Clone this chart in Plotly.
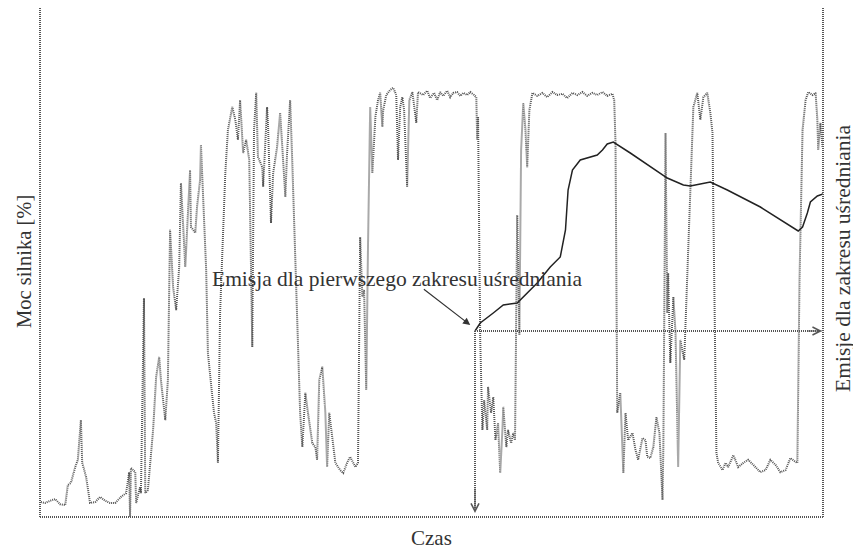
import plotly.graph_objects as go

# ---- Engine power trace (time [s], power [%]) ----
time_s = [
    2, 12, 23, 35, 46, 58, 64, 71, 81, 87, 94, 97, 106, 115, 127, 138, 150, 161, 173, 186,
    198, 205, 207, 209, 219, 221, 230, 232, 239, 242, 248, 253, 260, 267, 274, 278, 288, 294, 299, 306,
    313, 320, 324, 334, 345, 347, 357, 361, 368, 370, 377, 382, 386, 393, 400, 405, 409, 414, 421, 426,
    432, 442, 449, 455, 460, 467, 474, 481, 488, 492, 497, 501, 511, 513, 522, 524, 531, 536, 545, 552,
    557, 564, 568, 575, 580, 584, 589, 598, 603, 610, 616, 626, 633, 637, 642, 649, 656, 660, 665, 672,
    679, 690, 697, 706, 713, 725, 731, 736, 741, 745, 750, 754, 759, 764, 771, 777, 782, 787, 789, 796,
    805, 812, 819, 823, 828, 833, 837, 844, 849, 856, 865, 869, 881, 890, 897, 906, 913, 920, 927, 936,
    943, 950, 959, 966, 973, 982, 989, 998, 1003, 1005, 1007, 1012, 1017, 1021, 1028, 1030, 1037, 1042, 1047, 1053,
    1058, 1063, 1065, 1072, 1076, 1083, 1088, 1092, 1097, 1102, 1106, 1111, 1116, 1120, 1125, 1132, 1143, 1155, 1166, 1178,
    1189, 1201, 1212, 1224, 1235, 1247, 1258, 1270, 1281, 1293, 1304, 1316, 1320, 1323, 1327, 1334, 1341, 1346, 1352, 1362,
    1369, 1375, 1385, 1392, 1396, 1403, 1410, 1417, 1424, 1431, 1433, 1438, 1442, 1444, 1449, 1456, 1461, 1467, 1472, 1481,
    1488, 1495, 1502, 1511, 1518, 1525, 1534, 1541, 1546, 1548, 1555, 1559, 1569, 1576, 1582, 1594, 1605, 1617, 1628, 1640,
    1656, 1668, 1679, 1691, 1702, 1714, 1725, 1737, 1741, 1746, 1753, 1760, 1766, 1776, 1783, 1787, 1789, 1794, 1799,
]
power_pct = [
    3.5, 3.3, 3.8, 4.2, 3.0, 2.8, 7.5, 8.0, 11.7, 13.4, 22.7, 12.7, 9.4, 3.3, 3.5, 4.7, 3.8, 3.3, 3.3, 4.7,
    5.6, 10.5, 0.0, 11.5, 10.5, 3.3, 7.0, 5.6, 51.3, 5.6, 6.3, 12.7, 20.4, 32.8, 37.5, 32.1, 22.7, 32.1, 67.3, 53.9,
    48.5, 58.6, 78.3, 58.6, 81.3, 68.0, 66.6, 72.7, 79.0, 87.2, 69.6, 57.9, 38.4, 32.1, 24.4, 22.0, 12.7, 47.8, 69.6, 80.6,
    90.7, 96.1, 93.1, 88.4, 97.7, 85.3, 88.4, 83.7, 39.8, 90.7, 99.4, 84.4, 82.0, 77.4, 96.1, 92.4, 68.9, 80.6, 86.7, 94.7,
    86.7, 75.0, 85.3, 97.7, 83.0, 69.6, 55.6, 24.4, 16.4, 29.1, 24.4, 17.3, 16.4, 13.4, 32.1, 35.2, 24.4, 11.7, 24.4, 18.8,
    12.7, 11.0, 10.3, 12.7, 14.1, 11.7, 12.7, 65.6, 51.6, 53.2, 29.8, 63.3, 96.1, 80.6, 93.8, 97.7, 99.4, 91.4, 95.4, 98.9,
    100.1, 100.6, 98.9, 83.7, 96.1, 98.4, 95.4, 77.4, 97.7, 99.6, 92.4, 99.6, 98.9, 99.9, 98.2, 99.4, 97.7, 99.6, 98.7, 99.9,
    98.4, 99.4, 99.6, 98.7, 99.4, 98.9, 99.6, 98.9, 98.4, 88.4, 93.8, 41.5, 20.4, 27.4, 20.4, 30.5, 24.4, 28.1, 18.0, 22.0,
    10.3, 20.4, 25.8, 16.4, 20.4, 17.3, 19.7, 18.0, 70.8, 42.7, 86.0, 97.0, 90.7, 82.0, 95.4, 99.4, 98.7, 99.4, 98.4, 99.6,
    98.9, 99.2, 98.2, 99.4, 98.9, 99.6, 98.7, 99.4, 98.9, 99.6, 98.7, 99.2, 97.7, 87.7, 24.4, 29.1, 10.3, 24.4, 18.0, 19.7,
    15.7, 13.4, 18.5, 18.0, 14.1, 13.8, 16.4, 23.4, 19.7, 4.0, 16.4, 90.0, 47.8, 57.2, 36.1, 51.6, 43.1, 11.7, 41.5, 36.8,
    55.6, 79.0, 96.1, 99.4, 93.1, 98.4, 99.4, 94.7, 90.0, 71.3, 15.0, 12.7, 11.0, 12.7, 11.7, 14.5, 11.7, 12.7, 13.4, 12.2,
    10.5, 11.0, 13.4, 12.2, 10.5, 11.0, 13.8, 12.9, 12.7, 55.6, 90.7, 97.7, 99.6, 98.9, 99.4, 93.1, 86.0, 92.4, 86.7,
]

# ---- Emissions for the moving averaging window (time [s], emission [g/kWh]) ----
emis_time_s = [
    1000, 1012, 1042, 1065, 1097, 1111, 1143, 1173, 1196, 1208, 1214, 1224, 1242, 1281, 1293, 1304,
    1318, 1357, 1403, 1442, 1479, 1495, 1518, 1541, 1580, 1656, 1743, 1753, 1764, 1771, 1787, 1800,
]
emis_value = [
    1.86, 1.94, 2.04, 2.12, 2.14, 2.20, 2.34, 2.50, 2.60, 2.87, 3.27, 3.47, 3.57, 3.62, 3.67, 3.73,
    3.75, 3.64, 3.50, 3.39, 3.32, 3.31, 3.33, 3.35, 3.27, 3.10, 2.86, 2.90, 3.04, 3.15, 3.21, 3.23,
]

first_window_end_s = 1000
first_window_emission = 1.86
t_max = 1800

FONT = "Liberation Serif"
TXT = "#333333"
GRAY = "#555555"

fig = go.Figure()

fig.add_trace(go.Scatter(
    x=time_s, y=power_pct, mode="lines",
    line=dict(color="#555555", width=2, dash="1px,1px"),
    hoverinfo="skip", showlegend=False,
))

fig.add_trace(go.Scatter(
    x=emis_time_s, y=emis_value, mode="lines", yaxis="y2",
    line=dict(color="#222222", width=1.5),
    hoverinfo="skip", showlegend=False,
))

fig.add_trace(go.Scatter(
    x=[first_window_end_s, t_max - 4], y=[first_window_emission, first_window_emission],
    mode="lines", yaxis="y2",
    line=dict(color=GRAY, width=2, dash="1px,1px"),
    hoverinfo="skip", showlegend=False,
))
fig.add_trace(go.Scatter(
    x=[first_window_end_s, first_window_end_s], y=[first_window_emission, 0.06],
    mode="lines", yaxis="y2",
    line=dict(color=GRAY, width=2, dash="1px,1px"),
    hoverinfo="skip", showlegend=False,
))

annotations = [
    dict(x=t_max - 2, y=first_window_emission, xref="x", yref="y2",
         ax=t_max - 40, ay=first_window_emission, axref="x", ayref="y2",
         text="", showarrow=True, arrowhead=5, arrowsize=1.3, arrowwidth=1.2, arrowcolor=GRAY),
    dict(x=first_window_end_s, y=0.04, xref="x", yref="y2",
         ax=first_window_end_s, ay=0.3, axref="x", ayref="y2",
         text="", showarrow=True, arrowhead=5, arrowsize=1.3, arrowwidth=1.2, arrowcolor=GRAY),
    dict(x=989, y=1.92, xref="x", yref="y2",
         ax=879, ay=2.29, axref="x", ayref="y2",
         text="", showarrow=True, arrowhead=2, arrowsize=1.2, arrowwidth=1.2, arrowcolor="#333333"),
    dict(x=822, y=2.38, xref="x", yref="y2", text="Emisja dla pierwszego zakresu uśredniania",
         xanchor="center", yanchor="middle",
         showarrow=False, font=dict(family=FONT, size=21.5, color=TXT)),
    dict(x=-0.0204, y=0.501, xref="paper", yref="paper", text="Moc silnika [%]", textangle=-90,
         xanchor="center", yanchor="middle",
         showarrow=False, font=dict(family=FONT, size=20.5, color=TXT)),
    dict(x=1.0255, y=0.509, xref="paper", yref="paper", text="Emisje dla zakresu uśredniania", textangle=-90,
         xanchor="center", yanchor="middle",
         showarrow=False, font=dict(family=FONT, size=21.5, color=TXT)),
    dict(x=0.5006, y=-0.041, xref="paper", yref="paper", text="Czas",
         xanchor="center", yanchor="middle",
         showarrow=False, font=dict(family=FONT, size=21, color=TXT)),
]

shapes = [
    dict(type="line", xref="paper", yref="paper", x0=0, x1=0, y0=0, y1=1,
         line=dict(color=GRAY, width=2, dash="1px,1px")),
    dict(type="line", xref="paper", yref="paper", x0=1, x1=1, y0=0, y1=1,
         line=dict(color=GRAY, width=2, dash="1px,1px")),
    dict(type="line", xref="paper", yref="paper", x0=0, x1=1, y0=0, y1=0,
         line=dict(color=GRAY, width=2, dash="1px,1px")),
]

fig.update_layout(
    width=853, height=543,
    margin=dict(l=32, r=38, t=0, b=34),
    plot_bgcolor="white", paper_bgcolor="white",
    xaxis=dict(range=[0, t_max], visible=False),
    yaxis=dict(range=[0, 119.3], visible=False),
    yaxis2=dict(range=[0, 5.09], overlaying="y", visible=False),
    annotations=annotations,
    shapes=shapes,
    showlegend=False,
)

fig.write_html("out.html")
